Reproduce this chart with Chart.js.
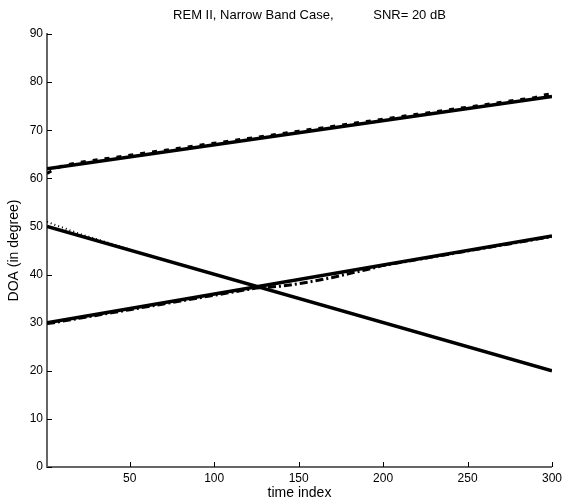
<!DOCTYPE html>
<html>
<head>
<meta charset="utf-8">
<script src="https://cdn.jsdelivr.net/npm/chart.js@4/dist/chart.umd.min.js"></script>
<style>
  html, body { margin: 0; padding: 0; background: #fff; }
  #wrap { width: 566px; height: 502px; position: relative; }
</style>
</head>
<body>
<div id="wrap"><canvas id="c" width="566" height="502"></canvas></div>
<script>
// ---- data ----
const titleText = 'REM II, Narrow Band Case,           SNR= 20 dB';
const xTickValues = [50, 100, 150, 200, 250, 300];
const yTickValues = [0, 10, 20, 30, 40, 50, 60, 70, 80, 90];

// true DOA tracks (straight lines, end points)
const trueTime = [1, 300];
const trueSource1 = [62, 77];
const trueSource2 = [50, 20];
const trueSource3 = [30, 48];

// estimated DOA tracks
const estTime = [1, 5, 10, 20, 30, 40, 50, 60, 70, 80, 90, 100, 110, 120, 125, 130, 140, 150, 160, 170, 180, 190, 200, 210, 220, 230, 240, 250, 260, 270, 280, 290, 295, 300];
const estSource1 = [61.0, 61.8, 62.6, 63.3, 63.8, 64.3, 64.8, 65.3, 65.8, 66.3, 66.8, 67.3, 67.8, 68.3, 68.5, 68.8, 69.3, 69.8, 70.3, 70.8, 71.3, 71.8, 72.3, 72.8, 73.3, 73.8, 74.3, 74.8, 75.3, 75.8, 76.3, 76.8, 77.3, 77.6];
const estSource2 = [51.0, 50.4, 49.8, 48.5, 47.4, 46.3, 45.2, 44.1, 43.1, 42.1, 41.1, 40.1, 39.07, 38.06, 37.56, 37.06, 36.06, 35.05, 34.05, 33.05, 32.05, 31.04, 30.04, 29.04, 28.03, 27.03, 26.03, 25.02, 24.02, 23.02, 22.01, 21.01, 20.5, 20.0];
const estSource3 = [29.8, 30.0, 30.3, 30.9, 31.5, 32.1, 32.7, 33.3, 33.9, 34.5, 35.1, 35.7, 36.3, 36.9, 37.2, 37.3, 37.6, 38.1, 38.7, 39.4, 40.2, 41.0, 41.9, 42.5, 43.1, 43.7, 44.3, 44.9, 45.5, 46.1, 46.7, 47.3, 47.6, 47.9];

function pts(xs, ys) { return xs.map((x, i) => ({ x: x, y: ys[i] })); }

const FONT = 'Helvetica, "Liberation Sans", Arial, sans-serif';

const decor = {
  id: 'decor',
  afterDraw(chart) {
    const ctx = chart.ctx;
    const xs = chart.scales.x, ys = chart.scales.y;
    const len = 5;
    ctx.save();
    ctx.strokeStyle = '#000';
    ctx.lineWidth = 1;
    xs.ticks.forEach((t) => {
      const px = Math.round(xs.getPixelForValue(t.value)) + 0.5;
      ctx.beginPath(); ctx.moveTo(px, ys.bottom); ctx.lineTo(px, ys.bottom - len); ctx.stroke();
    });
    ys.ticks.forEach((t) => {
      const py = Math.round(ys.getPixelForValue(t.value)) + 0.5;
      ctx.beginPath(); ctx.moveTo(xs.left, py); ctx.lineTo(xs.left + len, py); ctx.stroke();
    });
    // title
    ctx.fillStyle = '#000';
    ctx.font = '13px ' + FONT;
    ctx.textAlign = 'center';
    ctx.textBaseline = 'middle';
    ctx.fillText(titleText, (xs.left + xs.right) / 2 + 10, 15);
    ctx.restore();
  }
};

const lineBase = { showLine: true, pointRadius: 0, pointHoverRadius: 0, fill: false, borderColor: '#000', tension: 0 };

new Chart(document.getElementById('c'), {
  type: 'scatter',
  data: {
    datasets: [
      Object.assign({}, lineBase, { label: 'est 1', data: pts(estTime, estSource1), borderWidth: 3, borderDash: [5, 7] }),
      Object.assign({}, lineBase, { label: 'est 2', data: pts(estTime, estSource2), borderWidth: 2, borderDash: [1, 3] }),
      Object.assign({}, lineBase, { label: 'est 3', data: pts(estTime, estSource3), borderWidth: 3, borderDash: [8, 3, 2, 3] }),
      Object.assign({}, lineBase, { label: 'true 1', data: pts(trueTime, trueSource1), borderWidth: 3.5 }),
      Object.assign({}, lineBase, { label: 'true 2', data: pts(trueTime, trueSource2), borderWidth: 3.5 }),
      Object.assign({}, lineBase, { label: 'true 3', data: pts(trueTime, trueSource3), borderWidth: 3.5 })
    ]
  },
  options: {
    responsive: false,
    animation: false,
    events: [],
    layout: { padding: { top: 34, right: 12, left: 0, bottom: 0 } },
    plugins: {
      legend: { display: false },
      tooltip: { enabled: false },
      title: { display: false }
    },
    scales: {
      x: {
        type: 'linear',
        min: 1, max: 300,
        afterFit(s) { s.height = 35; },
        afterBuildTicks(s) { s.ticks = xTickValues.map(v => ({ value: v })); },
        grid: { display: false, drawTicks: false },
        border: { display: true, color: '#666', width: 2 },
        ticks: { color: '#000', font: { family: FONT, size: 12 }, padding: 4, maxRotation: 0, autoSkip: false },
        title: { display: true, text: 'time index', color: '#000', font: { family: FONT, size: 14 }, padding: { top: 0, bottom: 0 } }
      },
      y: {
        type: 'linear',
        min: 0, max: 90,
        afterFit(s) { s.width = 47; },
        afterBuildTicks(s) { s.ticks = yTickValues.map(v => ({ value: v })); },
        grid: { display: false, drawTicks: false },
        border: { display: true, color: '#666', width: 2 },
        ticks: { color: '#000', font: { family: FONT, size: 12 }, padding: 4, autoSkip: false },
        title: { display: true, text: 'DOA (in degree)', color: '#000', font: { family: FONT, size: 14 }, padding: { top: 6, bottom: 0 } }
      }
    }
  },
  plugins: [decor]
});
</script>
</body>
</html>
